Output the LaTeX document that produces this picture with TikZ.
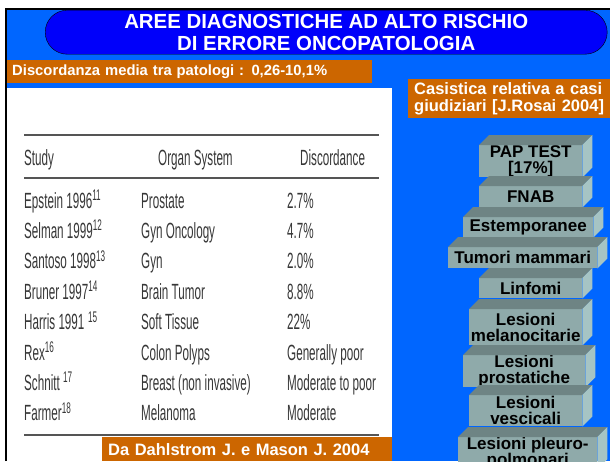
\documentclass[tikz,border=0pt]{standalone}
\usepackage{fontspec}
\usepackage{tikz}
\setmainfont{Liberation Sans}
\newfontfamily\tablefont[FakeStretch=0.53]{Liberation Sans}
\usetikzlibrary{positioning}
\definecolor{slideblue}{RGB}{0,102,255}
\definecolor{bannerblue}{RGB}{0,0,250}
\definecolor{ochre}{RGB}{204,102,0}
\definecolor{slabfront}{RGB}{143,170,170}
\definecolor{slabtop}{RGB}{110,132,132}
\definecolor{slabside}{RGB}{166,196,196}
\definecolor{tableink}{RGB}{55,55,55}
\newcommand{\slabfaces}[1]{%
 \fill[slabtop] (#1.north west) -- ++(10,-10) -- ([shift={(10,-10)}]#1.north east) -- (#1.north east) -- cycle;
 \fill[slabside] (#1.north east) -- ++(10,-10) -- ([shift={(10,-10)}]#1.south east) -- (#1.south east) -- cycle;}

\begin{document}
\begin{tikzpicture}[x=1pt,y=-1pt]
\tikzstyle{myslab} = [fill=slabfront, anchor=north west, inner sep=0pt, align=center, font=\bfseries\fontsize{17}{16}\selectfont]
\tikzstyle{mycell} = [anchor=base west, inner sep=0pt, text=tableink, font=\tablefont\fontsize{22}{24}\selectfont]
\tikzstyle{mytag} = [fill=ochre, text=white, anchor=north west, inner ysep=0pt, inner xsep=6pt, align=left]
\useasboundingbox (0,0) rectangle (610,461);
\fill[slideblue] (6,9) rectangle (610,461);
\draw[line width=2pt] (6,461) -- (6,9) -- (610,9);

% title banner
\node[draw=black, fill=bannerblue, rounded corners=22pt, minimum width=562pt, minimum height=44pt, anchor=north west, text=white, align=center, font=\bfseries\fontsize{20.4}{22}\selectfont] (title) at (45,10) {AREE DIAGNOSTICHE AD ALTO RISCHIO\\DI ERRORE ONCOPATOLOGIA};

% tags
\node[mytag, inner xsep=5pt, text width=355pt, minimum height=23pt, font=\bfseries\fontsize{14.8}{16}\selectfont] (discord) at (7,60) {Discordanza media tra patologi : 0,26-10,1\%};
\node[mytag, text width=196pt, minimum height=39pt, font=\bfseries\fontsize{16.5}{17}\selectfont] (rosai) at (408,79) {Casistica relativa a casi\\giudiziari [J.Rosai 2004]};

% table
\node[fill=white, anchor=north west, inner sep=0pt, minimum width=385pt, minimum height=373pt] (panel) at (7,88) {};
\draw[tableink!85, line width=1.6pt] (24,135) -- (379,135);
\draw[tableink!85, line width=1.6pt] (24,178) -- (379,178);
\draw[tableink!85, line width=1.6pt] (24,435) -- (379,435);
\node[mycell] (hstudy) at (24,165) {Study};
\node[mycell] (horgan) at (158,165) {Organ System};
\node[mycell] (hdisc) at (300,165) {Discordance};
\node[mycell] (s1) at (24,208) {Epstein 1996\textsuperscript{11}};
\node[mycell] (o1) at (141,208) {Prostate};
\node[mycell] (d1) at (287,208) {2.7\%};
\node[mycell] (s2) at (24,238.4) {Selman 1999\textsuperscript{12}};
\node[mycell] (o2) at (141,238.4) {Gyn Oncology};
\node[mycell] (d2) at (287,238.4) {4.7\%};
\node[mycell] (s3) at (24,268.8) {Santoso 1998\textsuperscript{13}};
\node[mycell] (o3) at (141,268.8) {Gyn};
\node[mycell] (d3) at (287,268.8) {2.0\%};
\node[mycell] (s4) at (24,299.2) {Bruner 1997\textsuperscript{14}};
\node[mycell] (o4) at (141,299.2) {Brain Tumor};
\node[mycell] (d4) at (287,299.2) {8.8\%};
\node[mycell] (s5) at (24,329.6) {Harris 1991\,\textsuperscript{15}};
\node[mycell] (o5) at (141,329.6) {Soft Tissue};
\node[mycell] (d5) at (287,329.6) {22\%};
\node[mycell] (s6) at (24,360) {Rex\textsuperscript{16}};
\node[mycell] (o6) at (141,360) {Colon Polyps};
\node[mycell] (d6) at (287,360) {Generally poor};
\node[mycell] (s7) at (24,390.4) {Schnitt \textsuperscript{17}};
\node[mycell] (o7) at (141,390.4) {Breast (non invasive)};
\node[mycell] (d7) at (287,390.4) {Moderate to poor};
\node[mycell] (s8) at (24,420.8) {Farmer\textsuperscript{18}};
\node[mycell] (o8) at (141,420.8) {Melanoma};
\node[mycell] (d8) at (287,420.8) {Moderate};
\node[mytag, text width=278pt, minimum height=24pt, font=\bfseries\fontsize{16.5}{19}\selectfont] (source) at (102,437) {Da Dahlstrom J. e Mason J. 2004};

% staircase
\node[myslab, minimum width=103pt, minimum height=32pt] (pap) at (479,145) {PAP TEST\\{[}17\%{]}};
\slabfaces{pap}
\node[myslab, minimum width=103pt, minimum height=21pt] (fnab) at (479,186) {FNAB};
\slabfaces{fnab}
\node[myslab, minimum width=130pt, minimum height=20pt] (estemp) at (463,217) {Estemporanee};
\slabfaces{estemp}
\node[myslab, minimum width=149pt, minimum height=21pt] (mammari) at (448,247) {Tumori mammari};
\slabfaces{mammari}
\node[myslab, minimum width=103pt, minimum height=20pt] (linfomi) at (479,278) {Linfomi};
\slabfaces{linfomi}
\node[myslab, minimum width=113pt, minimum height=36pt] (melano) at (469,309) {Lesioni\\melanocitarie};
\slabfaces{melano}
\node[myslab, minimum width=122pt, minimum height=30pt] (prostat) at (463,355) {Lesioni\\prostatiche};
\slabfaces{prostat}
\node[myslab, minimum width=113pt, minimum height=31pt] (vescic) at (469,395) {Lesioni\\vescicali};
\slabfaces{vescic}
\node[myslab, minimum width=139pt, minimum height=30pt] (pleuro) at (458,437) {Lesioni pleuro-\\polmonari};
\slabfaces{pleuro}
\end{tikzpicture}
\end{document}
